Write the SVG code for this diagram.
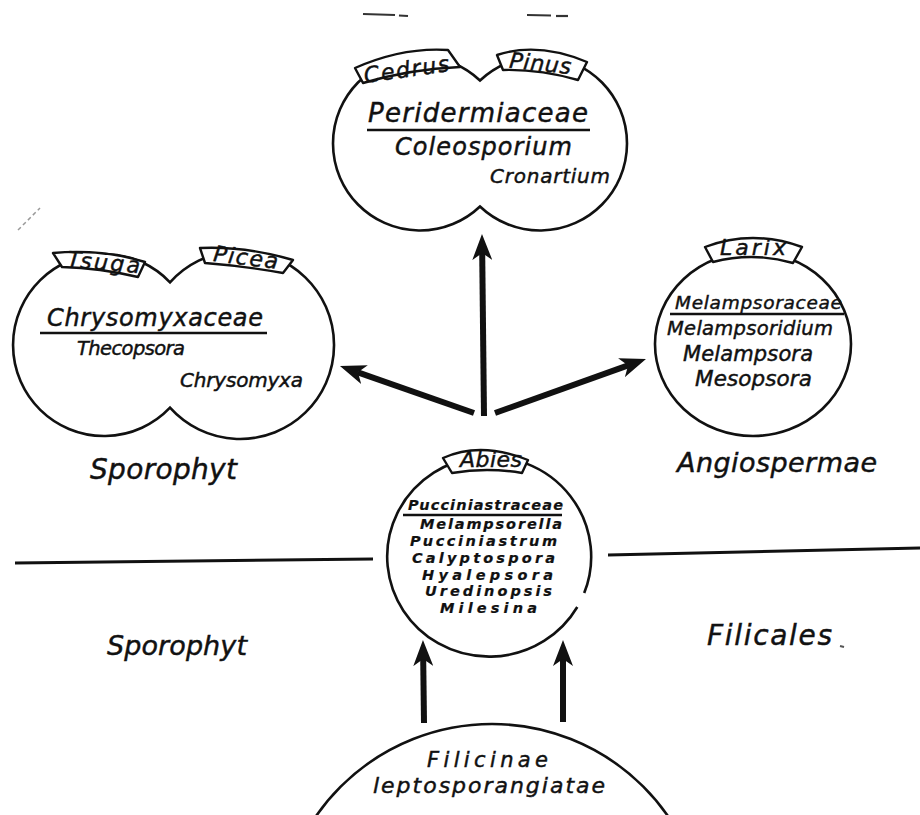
<svg xmlns="http://www.w3.org/2000/svg" width="920" height="815" viewBox="0 0 920 815">
<style>
.o{fill:none;stroke:#111;stroke-width:2.6}
.lab{fill:#fff;stroke:#111;stroke-width:2.4;stroke-linejoin:round}
.ul{stroke:#111;stroke-width:2.6}
.sep{stroke:#111;stroke-width:3}
.arr{stroke:#111;stroke-width:6;fill:none;marker-end:url(#ah)}
text{font-family:"DejaVu Sans","Liberation Sans",sans-serif;font-style:italic;fill:#111;stroke:#111;stroke-width:0.45}
.b{font-weight:bold;stroke-width:0.2}
</style>
<defs>
<marker id="ah" markerUnits="userSpaceOnUse" viewBox="0 0 26 20" markerWidth="26" markerHeight="20" refX="7" refY="10" orient="auto">
<path d="M0,0 L26,10 L0,20 L7,10 Z" fill="#111"/>
</marker>
</defs>
<rect width="920" height="815" fill="#fff"/>

<g id="marks" stroke="#333" stroke-width="2.2" fill="none">
<line x1="363" y1="14" x2="395" y2="15"/><line x1="399" y1="15.5" x2="408" y2="16"/>
<line x1="527" y1="15" x2="551" y2="15.5"/><line x1="556" y1="16" x2="568" y2="16"/>
<line x1="18" y1="230" x2="40" y2="208" stroke="#999" stroke-width="1.5" stroke-dasharray="4 3"/>
</g>

<g id="separators">
<line class="sep" x1="15" y1="563" x2="373" y2="559"/>
<line class="sep" x1="608" y1="555" x2="920" y2="548"/>
</g>

<g id="n-peridermiaceae">
<path class="o" d="M480,80.5 A87,87 0 1 0 480,206.5 A87,87 0 1 0 480,80.5 Z"/>
<path class="lab" d="M355,68 Q402.5,47 448,50 L460,67 Q410.5,69 363,83 Z"/>
<text x="364" y="77" font-size="22" textLength="86" transform="rotate(-8 407 73)">Cedrus</text>
<path class="lab" d="M497,55 Q538,41.5 587,62 L578,80 Q539.5,69 503,70 Z"/>
<text x="509" y="71" font-size="22" textLength="62" transform="rotate(6 540 67)">Pinus</text>
<text x="368" y="122" font-size="26" textLength="220">Peridermiaceae</text>
<line class="ul" x1="367" y1="130" x2="590" y2="130"/>
<text x="395" y="155" font-size="24" textLength="177">Coleosporium</text>
<text x="490" y="183" font-size="20" textLength="120">Cronartium</text>
</g>

<g id="n-chrysomyxaceae">
<path class="o" d="M170,282.3 A91,91 0 1 0 170,407.7 A94,94 0 1 0 170,282.3 Z"/>
<path class="lab" d="M53,253 Q101,248.5 145,262 L138,277 Q100,268 62,267 Z"/>
<text x="67" y="270" font-size="22" textLength="73" transform="rotate(5 103 265)">Tsuga</text>
<path class="lab" d="M200,248 Q246,246 293,260 L283,273 Q244,266 205,263 Z"/>
<text x="213" y="265" font-size="22" textLength="65" transform="rotate(7 245 260)">Picea</text>
<text x="47" y="326" font-size="24" textLength="216">Chrysomyxaceae</text>
<line class="ul" x1="40" y1="333" x2="267" y2="333"/>
<text x="77" y="355" font-size="19.5" textLength="108">Thecopsora</text>
<text x="180" y="387" font-size="20" textLength="123">Chrysomyxa</text>
</g>

<g id="n-melampsoraceae">
<ellipse class="o" cx="753" cy="344" rx="98" ry="92"/>
<path class="lab" d="M705,247 Q752.5,229 802,247 L793,263 Q753,251.5 713,262 Z"/>
<text x="720" y="255" font-size="22" textLength="66">Larix</text>
<text x="675" y="309" font-size="18.5" textLength="167">Melampsoraceae</text>
<line class="ul" x1="670" y1="314" x2="844" y2="314"/>
<text x="667" y="335" font-size="19.5" textLength="166">Melampsoridium</text>
<text x="683" y="361" font-size="21" textLength="130">Melampsora</text>
<text x="695" y="386" font-size="21.5" textLength="117">Mesopsora</text>
</g>

<g id="n-pucciniastraceae">
<path class="o" d="M577.3,607 A102,100 0 1 1 584.2,593"/>
<path class="lab" d="M443,458 Q480.5,441 528,460 L522,473 Q487,467 452,473 Z"/>
<text x="460" y="467" font-size="22" textLength="62">Abies</text>
<text class="b" x="408" y="510" font-size="14.5" textLength="155">Pucciniastraceae</text>
<line class="ul" x1="403" y1="515" x2="562" y2="515"/>
<text class="b" x="420" y="529" font-size="14.5" textLength="142">Melampsorella</text>
<text class="b" x="410" y="546" font-size="14.5" textLength="147">Pucciniastrum</text>
<text class="b" x="412" y="563" font-size="14.5" textLength="143">Calyptospora</text>
<text class="b" x="422" y="580" font-size="14.5" textLength="131">Hyalepsora</text>
<text class="b" x="425" y="596" font-size="14.5" textLength="127">Uredinopsis</text>
<text class="b" x="440" y="613" font-size="14.5" textLength="97">Milesina</text>
</g>

<g id="n-filicinae">
<circle class="o" cx="492" cy="938" r="214"/>
<text x="427" y="767" font-size="21" textLength="121">Filicinae</text>
<text x="373" y="793" font-size="22" textLength="232">leptosporangiatae</text>
</g>

<g id="free-labels">
<text x="90" y="479" font-size="28" textLength="147">Sporophyt</text>
<text x="677" y="472" font-size="27" textLength="200">Angiospermae</text>
<text x="107" y="655" font-size="27" textLength="140">Sporophyt</text>
<text x="707" y="645" font-size="28" textLength="125">Filicales</text>
<line x1="840" y1="646" x2="844" y2="647" stroke="#555" stroke-width="2"/>
</g>

<g id="connectors">
<line class="arr" x1="484" y1="416" x2="482.2" y2="253"/>
<line class="arr" x1="474" y1="413" x2="357.9" y2="372.3"/>
<line class="arr" x1="495" y1="413" x2="628.1" y2="365.4"/>
<line class="arr" x1="424" y1="723" x2="423.2" y2="659"/>
<line class="arr" x1="563" y1="722" x2="563" y2="659"/>
</g>
</svg>
